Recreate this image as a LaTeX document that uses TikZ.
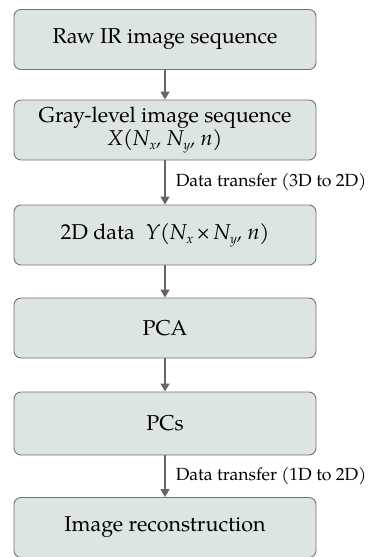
\documentclass[tikz,border=0pt]{standalone}
\usepackage{fontspec}
\setmainfont{TeX Gyre Pagella}
\usepackage{tikz}
\usetikzlibrary{positioning,arrows.meta}
\definecolor{boxfill}{HTML}{DDE5E3}
\definecolor{boxline}{HTML}{7A706C}
\definecolor{arrgray}{HTML}{666666}
\newcommand{\lowsub}[1]{\raisebox{-0.35ex}{\fontsize{13}{13}\selectfont #1}}
\tikzset{
  stepbox/.style ={rounded corners=7pt, draw=boxline, fill=boxfill, line width=0.9pt,
                   minimum width=302pt, minimum height=60pt, align=center,
                   font=\fontsize{21.5}{22}\selectfont, inner sep=2pt},
  flowarr/.style ={-{Triangle[length=8pt,width=9pt]}, draw=arrgray, line width=1.5pt},
  arrlbl/.style  ={right, font=\fontsize{17.6}{20}\selectfont, inner sep=0pt, xshift=10pt},
}
\begin{document}
\begin{tikzpicture}[x=1pt, y=-1pt]
\useasboundingbox (0,0) rectangle (376,557);
% ---- processing steps
\node[stepbox] (raw)   at (165,39.5)  {Raw IR image sequence};
\node[stepbox] (gray)  at (165,130)   {Gray-level image sequence\\[-1pt]
  \textit{X(N\lowsub{x}, N\lowsub{y}, n)}};
\node[stepbox] (flat)  at (165,235)   {2D data\ \ \textit{Y(N\lowsub{x}\,\textup{×}\,N\lowsub{y}, n)}};
\node[stepbox] (pca)   at (165,328)   {PCA};
\node[stepbox, minimum height=63pt] (pcs) at (165,423.5) {PCs};
\node[stepbox] (recon) at (165,527.5) {Image reconstruction};

% ---- arrows between steps
\draw[flowarr] (raw)  -- (gray);
\draw[flowarr] (gray) -- node[arrlbl] {Data transfer (3D to 2D)} (flat);
\draw[flowarr] (flat) -- (pca);
\draw[flowarr] (pca)  -- (pcs);
\draw[flowarr] (pcs)  -- node[arrlbl] {Data transfer (1D to 2D)} (recon);
\end{tikzpicture}
\end{document}
